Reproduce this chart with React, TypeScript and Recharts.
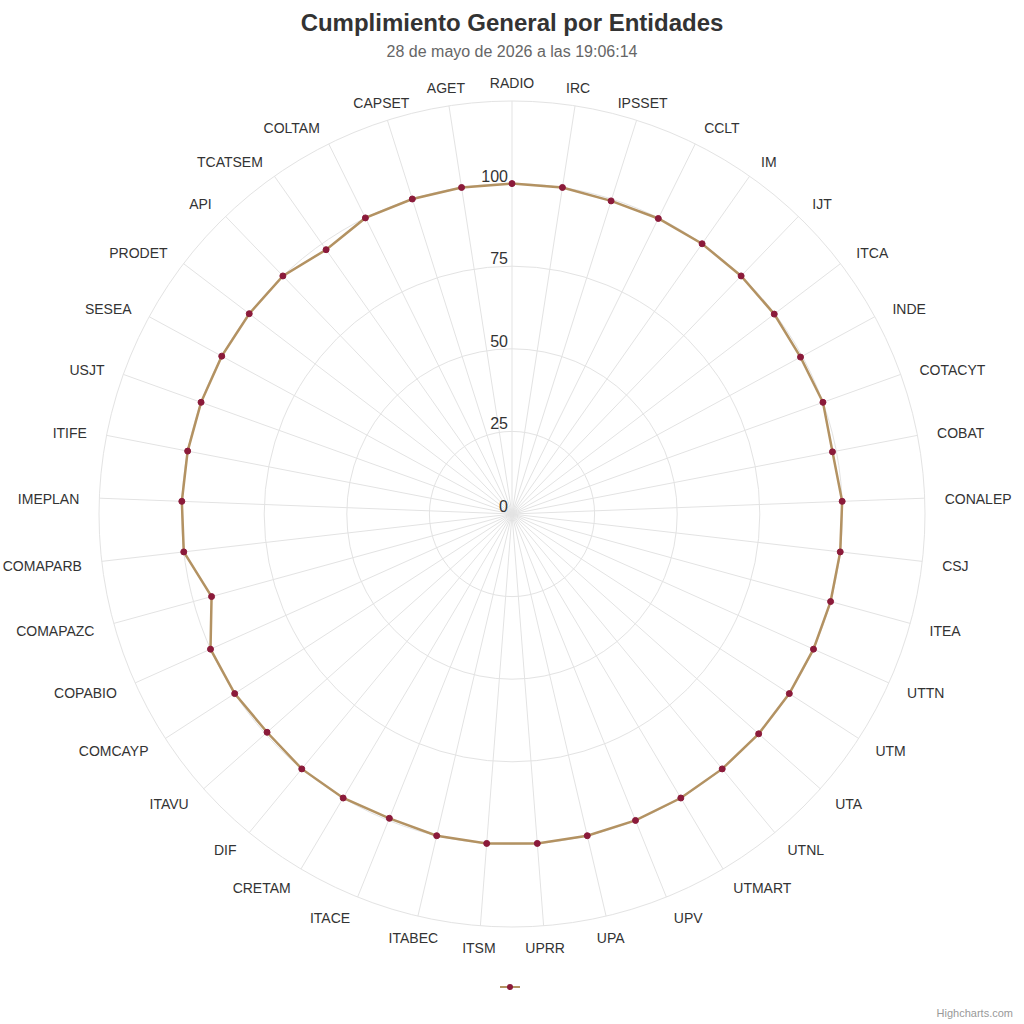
import { RadarChart, Radar, PolarGrid, PolarAngleAxis, PolarRadiusAxis, Legend } from "recharts";

const entidades = [
  "RADIO", "IRC", "IPSSET", "CCLT", "IM", "IJT", "ITCA", "INDE", "COTACYT", "COBAT",
  "CONALEP", "CSJ", "ITEA", "UTTN", "UTM", "UTA", "UTNL", "UTMART", "UPV", "UPA",
  "UPRR", "ITSM", "ITABEC", "ITACE", "CRETAM", "DIF", "ITAVU", "COMCAYP", "COPABIO", "COMAPAZC",
  "COMAPARB", "IMEPLAN", "ITIFE", "USJT", "SESEA", "PRODET", "API", "TCATSEM", "COLTAM", "CAPSET",
  "AGET",
];

const cumplimiento = [
  100, 100, 99.4, 99.8, 100, 100, 99.8, 99.4, 100, 98.8,
  100, 100, 100, 100, 100, 100, 100, 100, 100, 100,
  100, 100, 100, 99.3, 100, 100, 99.3, 100, 100, 94.3,
  100, 100, 100, 100, 100, 100, 100, 97.8, 100, 100,
  100,
];

const radiusTicks = [0, 25, 50, 75, 100, 125];

const data = entidades.map((name, i) => ({ name, value: cumplimiento[i] }));

const CX = 512;
const CY = 514;
const OUTER = 413;
const LABEL_R = 433;
const FONT = "'Liberation Sans', Arial, Helvetica, sans-serif";

const AngleTick = (props: any) => {
  const { x, y, payload } = props;
  const dx = x - CX;
  const dy = y - CY;
  const len = Math.hypot(dx, dy) || 1;
  const lx = CX + (dx / len) * LABEL_R;
  const ly = CY + (dy / len) * LABEL_R;
  const s = dx / len;
  const anchor = Math.abs(s) < 0.37 ? "middle" : s > 0 ? "start" : "end";
  return (
    <text x={lx} y={ly + 2} dy="0.35em" textAnchor={anchor} fill="#333333" fontSize={14} fontFamily={FONT}>
      {payload.value}
    </text>
  );
};

const RadiusTick = (props: any) => {
  const { x, y, payload } = props;
  if (payload.value === 125) return null;
  return (
    <text x={x - 4} y={y - 2} textAnchor="end" fill="#333333" fontSize={16} fontFamily={FONT}>
      {payload.value}
    </text>
  );
};

const LegendMark = () => (
  <div style={{ display: "flex", justifyContent: "center" }}>
    <svg width={24} height={10} style={{ marginLeft: -4 }}>
      <line x1={2} y1={5} x2={22} y2={5} stroke="#b39262" strokeWidth={2} />
      <circle cx={12} cy={5} r={3} fill="#8b1a3a" />
    </svg>
  </div>
);

const App = () => {
  return (
    <div style={{ position: "absolute", left: 0, top: 0, width: 1024, height: 1024, background: "#ffffff", fontFamily: FONT }}>
      <div style={{ position: "absolute", top: 9, width: 1024, textAlign: "center", fontSize: 24, fontWeight: "bold", color: "#333333" }}>
        Cumplimiento General por Entidades
      </div>
      <div style={{ position: "absolute", top: 43, width: 1024, textAlign: "center", fontSize: 16, color: "#666666" }}>
        28 de mayo de 2026 a las 19:06:14
      </div>
      <RadarChart
        width={1024}
        height={1024}
        data={data}
        cx={CX}
        cy={CY}
        outerRadius={OUTER}
        margin={{ top: 0, right: 0, bottom: 0, left: 0 }}
      >
        <PolarGrid gridType="circle" stroke="#e3e3e3" strokeWidth={1} />
        <PolarAngleAxis dataKey="name" tick={<AngleTick />} tickLine={false} axisLine={false} />
        <PolarRadiusAxis
          angle={90}
          domain={[0, 125]}
          ticks={radiusTicks}
          tick={<RadiusTick />}
          axisLine={false}
          tickLine={false}
        />
        <Radar
          dataKey="value"
          stroke="#b39262"
          strokeWidth={2.5}
          fill="none"
          fillOpacity={0}
          dot={{ r: 3, fill: "#8b1a3a", stroke: "#8b1a3a", strokeWidth: 1, fillOpacity: 1 }}
          isAnimationActive={false}
        />
        <Legend content={<LegendMark />} wrapperStyle={{ position: "absolute", top: 982, left: 0, width: 1024 }} />
      </RadarChart>
      <div style={{ position: "absolute", right: 11, top: 1007, fontSize: 11, color: "#999999" }}>Highcharts.com</div>
    </div>
  );
};

export default App;
